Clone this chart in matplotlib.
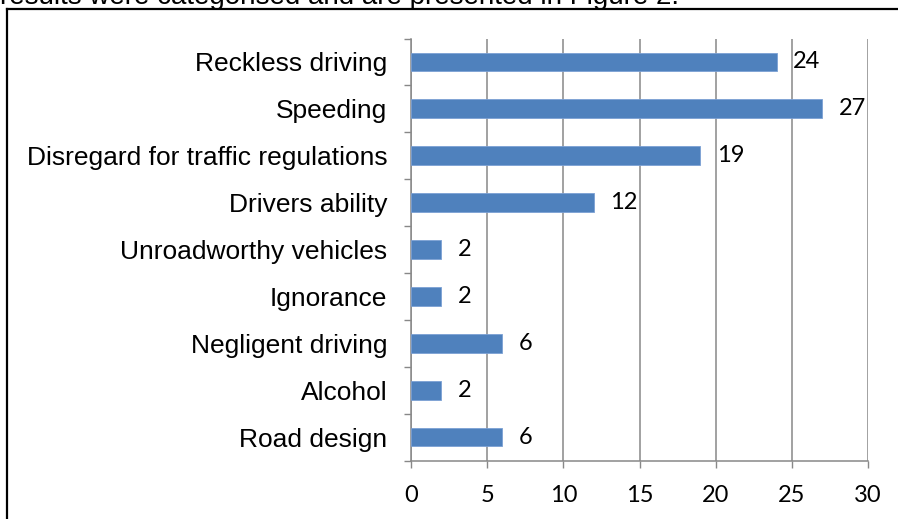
import matplotlib.pyplot as plt
from matplotlib.lines import Line2D

# Causes of road accidents (number of responses)
causes = ["Reckless driving", "Speeding", "Disregard for traffic regulations",
          "Drivers ability", "Unroadworthy vehicles", "Ignorance",
          "Negligent driving", "Alcohol", "Road design"]
counts = [24, 27, 19, 12, 2, 2, 6, 2, 6]
xticks = [0, 5, 10, 15, 20, 25, 30]

fig = plt.figure(figsize=(8.98, 5.19), dpi=100)
ax = fig.add_axes([411 / 898, 58.5 / 519, 457 / 898, 422 / 519])

pos = list(range(len(causes)))
ax.barh(pos, counts, height=0.4, color="#4F81BD", edgecolor="#7BA0D4", linewidth=0.6, zorder=3)

for y, v in zip(pos, counts):
    ax.annotate(str(v), (v, y), xytext=(12, 0), textcoords="offset points",
                va="center", ha="left", fontsize=17, family="Lato")

ax.set_xlim(0, 30)
ax.set_ylim(len(causes) - 0.5, -0.5)
ax.set_xticks(xticks)
ax.set_xticklabels([str(t) for t in xticks], fontsize=17, family="Lato")
ax.set_yticks(pos)
ax.set_yticklabels(causes, fontsize=19, family="Liberation Sans")
ax.set_yticks([p - 0.5 for p in pos] + [len(causes) - 0.5], minor=True)

ax.tick_params(axis="y", which="major", length=0, pad=17)
ax.tick_params(axis="y", which="minor", length=5, width=1, color="#888888", direction="out")
ax.tick_params(axis="x", length=5, width=1, color="#888888", direction="out", pad=13)

ax.grid(axis="x", color="#888888", linewidth=1.1, zorder=0)
for side in ("top", "right"):
    ax.spines[side].set_visible(False)
for side in ("left", "bottom"):
    ax.spines[side].set_color("#888888")
    ax.spines[side].set_linewidth(1.1)

# surrounding frame and the line of body text above it
top = 1 - 9 / 519
fig.add_artist(Line2D([7 / 898, 7 / 898], [0, top], color="black", linewidth=1.6))
fig.add_artist(Line2D([7 / 898, 1], [top, top], color="black", linewidth=1.6))
fig.text(0.0, 1 - 4 / 519, "results were categorised and are presented in Figure 2.",
         fontsize=20, family="Liberation Sans", va="baseline", ha="left")

fig.savefig("out.png", dpi=100)
